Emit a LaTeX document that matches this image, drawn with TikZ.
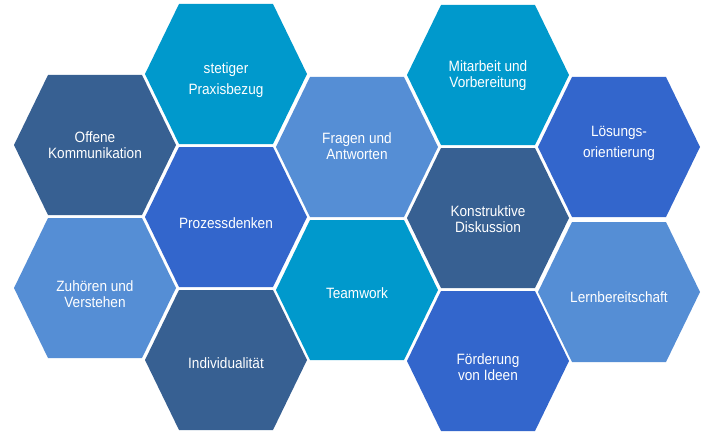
\documentclass[tikz,border=0pt]{standalone}
\usepackage{fontspec}
\usepackage{graphicx}
\setmainfont{Liberation Sans}
\definecolor{cdark}{HTML}{376092}
\definecolor{clight}{HTML}{558ED5}
\definecolor{cmid}{HTML}{3366CC}
\definecolor{ccyan}{HTML}{0099CC}
\newcommand\hexcell[3]{%
  \fill[#3] (#1-81,#2) -- (#1-47,#2-70) -- (#1+47,#2-70) -- (#1+81,#2) -- (#1+47,#2+70) -- (#1-47,#2+70) -- cycle;}
\newcommand\hextext[2][14.5]{\scalebox{1}[1.1]{\fontsize{13.6}{#1}\selectfont\begin{tabular}{@{}c@{}}#2\end{tabular}}}
\begin{document}
\begin{tikzpicture}[x=1pt,y=-1pt,
  lbl/.style={text=white,inner sep=0pt,yshift=-2pt}]
\useasboundingbox[fill=white] (0,0) rectangle (715,444);
% column 1
\hexcell{95}{145}{cdark}
\hexcell{95}{288}{clight}
% column 2
\hexcell{226}{74}{ccyan}
\hexcell{226}{217}{cmid}
\hexcell{226}{360}{cdark}
% column 3
\hexcell{357}{147}{clight}
\hexcell{357}{290}{ccyan}
% column 4
\hexcell{488}{75}{ccyan}
\hexcell{488}{218}{cdark}
\hexcell{488}{361}{cmid}
% column 5
\hexcell{619}{147}{cmid}
\hexcell{619}{292}{clight}
% labels
\node[lbl] (offen) at (95,145) {\hextext{Offene\\Kommunikation}};
\node[lbl] (zuh) at (95,294) {\hextext{Zuhören und\\Verstehen}};
\node[lbl] (stet) at (226,77.5) {\hextext[19]{stetiger\\Praxisbezug}};
\node[lbl] (proz) at (226,223) {\hextext{Prozessdenken}};
\node[lbl] (indiv) at (226,363) {\hextext{Individualität}};
\node[lbl] (frag) at (357,146) {\hextext{Fragen und\\Antworten}};
\node[lbl] (team) at (357,293) {\hextext{Teamwork}};
\node[lbl] (mitarb) at (488,74) {\hextext{Mitarbeit und\\Vorbereitung}};
\node[lbl] (konstr) at (488,219) {\hextext{Konstruktive\\Diskussion}};
\node[lbl] (foerd) at (488,367.5) {\hextext{Förderung\\von Ideen}};
\node[lbl] (loes) at (619,140.5) {\hextext[19]{Lösungs-\\orientierung}};
\node[lbl] (lern) at (619,297) {\hextext{Lernbereitschaft}};
\end{tikzpicture}
\end{document}
